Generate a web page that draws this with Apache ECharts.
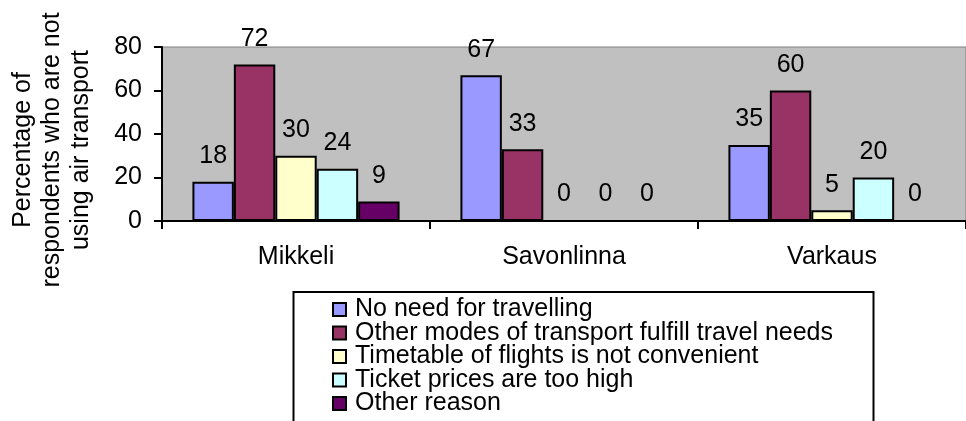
<!DOCTYPE html>
<html>
<head>
<meta charset="utf-8">
<title>Reasons for not using air transport</title>
<script src="https://cdn.jsdelivr.net/npm/echarts@6/dist/echarts.min.js"></script>
<style>
  html, body { margin: 0; padding: 0; background: #ffffff; }
  #chart { width: 966px; height: 421px; }
</style>
</head>
<body>
<div id="chart"></div>
<script>
// Survey towns (categories)
const towns = ['Mikkeli', 'Savonlinna', 'Varkaus'];

// Share of respondents (%) giving each reason, per town
const noNeed       = [18, 67, 35];
const otherModes   = [72, 33, 60];
const timetable    = [30, 0, 5];
const ticketPrices = [24, 0, 20];
const otherReason  = [9, 0, 0];

const reasonNames = [
  'No need for travelling',
  'Other modes of transport fulfill travel needs',
  'Timetable of flights is not convenient',
  'Ticket prices are too high',
  'Other reason'
];
const reasonValues = [noNeed, otherModes, timetable, ticketPrices, otherReason];
const reasonColors = ['#9999FF', '#993366', '#FFFFCC', '#CCFFFF', '#660066'];

// Value axis range
const yMin = 0, yMax = 80, yStep = 20;

const FONT = '"Liberation Sans", Arial, sans-serif';
const FS = 25;

const chart = echarts.init(document.getElementById('chart'), null, { renderer: 'canvas' });

const series = reasonNames.map((name, i) => ({
  name: name,
  type: 'bar',
  data: reasonValues[i],
  barGap: '0%',
  barCategoryGap: '22.7%',
  itemStyle: { color: reasonColors[i], borderColor: '#000000', borderWidth: 2 },
  label: {
    show: true,
    position: 'top',
    distance: 13,
    color: '#000000',
    fontFamily: FONT,
    fontSize: FS
  },
  emphasis: { disabled: true }
}));

chart.setOption({
  animation: false,
  backgroundColor: '#ffffff',
  grid: {
    left: 162,
    top: 47,
    width: 815,
    height: 174,
    show: true,
    backgroundColor: '#C0C0C0',
    borderColor: '#808080',
    borderWidth: 1,
    containLabel: false
  },
  xAxis: {
    type: 'category',
    data: towns,
    boundaryGap: true,
    axisLine: { lineStyle: { color: '#000000', width: 2 } },
    axisTick: { show: true, length: 8, lineStyle: { color: '#000000', width: 2 } },
    axisLabel: { color: '#000000', fontFamily: FONT, fontSize: FS, margin: 24 },
    splitLine: { show: false }
  },
  yAxis: {
    type: 'value',
    min: yMin,
    max: yMax,
    interval: yStep,
    axisLine: { show: true, lineStyle: { color: '#000000', width: 2 } },
    axisTick: { show: true, length: 8, lineStyle: { color: '#000000', width: 2 } },
    axisLabel: { color: '#000000', fontFamily: FONT, fontSize: FS, margin: 20 },
    splitLine: { show: false }
  },
  legend: {
    orient: 'vertical',
    left: 332,
    top: 297,
    width: 560,
    height: 400,
    padding: 0,
    itemGap: -1.5,
    itemWidth: 13,
    itemHeight: 13,
    icon: 'rect',
    itemStyle: { borderColor: '#000000', borderWidth: 2 },
    textStyle: {
      color: '#000000',
      fontFamily: FONT,
      fontSize: FS,
      padding: [0, 0, 0, 4]
    },
    selectedMode: false,
    z: 10
  },
  graphic: [
    {
      type: 'rect',
      z: 1,
      shape: { x: 293.5, y: 292, width: 580, height: 200 },
      style: { fill: '#ffffff', stroke: '#000000', lineWidth: 2 }
    },
    {
      type: 'text',
      z: 5,
      x: 52,
      y: 150,
      rotation: Math.PI / 2,
      style: {
        text: 'Percentage of\nrespondents who are not\nusing air transport',
        font: FS + 'px ' + FONT,
        fill: '#000000',
        textAlign: 'center',
        textVerticalAlign: 'middle',
        lineHeight: 29
      }
    }
  ],
  series: series
});
</script>
</body>
</html>
